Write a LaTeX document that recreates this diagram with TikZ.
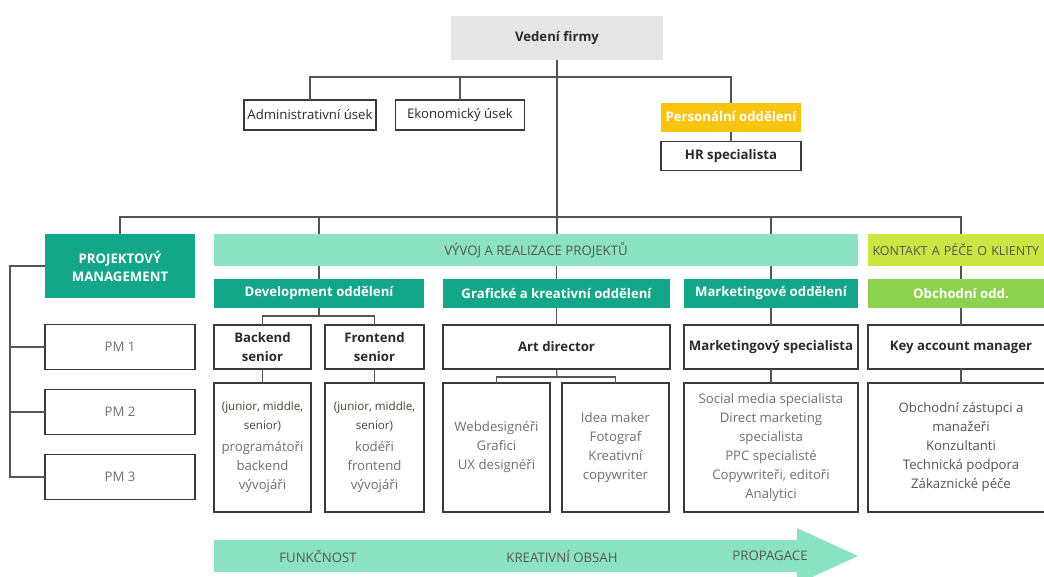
\documentclass[tikz,border=0pt]{standalone}
\usepackage{fontspec}
\setmainfont{Open Sans}
\usetikzlibrary{positioning}
\definecolor{teal}{HTML}{13A688}
\definecolor{mint}{HTML}{8BE3C3}
\definecolor{lime}{HTML}{CBE642}
\definecolor{leaf}{HTML}{8DD24E}
\definecolor{gold}{HTML}{F7C510}
\definecolor{lightgray}{HTML}{E6E6E6}
\definecolor{frame}{HTML}{3A3A3A}
\definecolor{wire}{HTML}{555555}
\definecolor{soft}{HTML}{707070}
\definecolor{dark}{HTML}{2B2B2B}
\definecolor{level}{HTML}{4A3F35}
\newcommand{\lvl}[1]{{\fontsize{11.6}{15}\selectfont\color{level}#1}}

\begin{document}
\begin{tikzpicture}
  [x=1pt,y=-1pt,
   every node/.style={inner sep=0pt,outer sep=0pt,align=center,
     font=\fontsize{13.2}{19}\selectfont},
   sz/.style 2 args={minimum width=#1,minimum height=#2},
   box/.style={draw=frame,line width=1.7pt,fill=white},
   head/.style={box,text=dark,font=\fontsize{13.2}{19}\selectfont\bfseries},
   list/.style={box,text=soft},
   dept/.style={fill=teal,text=white,font=\fontsize{13.2}{18}\selectfont\bfseries},
   band/.style={fill=mint,text=wire},
   wires/.style={draw=wire,line width=1.2pt}]
  \useasboundingbox (0,0) rectangle (1044,576);
  \clip (0,0) rectangle (1044,576);

  % top
  \node[sz={212}{44},fill=lightgray,text=dark,font=\fontsize{13.2}{19}\selectfont\bfseries] (vedeni) at (557,38) {Vedení firmy};
  \node[box,sz={132}{30},text=dark] (admin) at (310,115) {Administrativní úsek};
  \node[box,sz={129}{30},text=dark] (ekonom) at (460,115) {Ekonomický úsek};
  \node[dept,fill=gold,sz={140}{29}] (personal) at (731,117) {Personální oddělení};
  \node[head,sz={140}{29}] (hr) at (731,156) {HR specialista};

  % second level
  \node[dept,sz={150}{64}] (pm) at (120,266) {PROJEKTOVÝ\\MANAGEMENT};
  \node[band,sz={644}{32}] (vyvoj) at (536,250) {VÝVOJ A REALIZACE PROJEKTŮ};
  \node[band,fill=lime,sz={186}{32},text width=181,align=left,inner xsep=5pt,
    font=\fontsize{12.5}{18}\selectfont] (kontakt) at (963,250) {KONTAKT A PÉČE O KLIENTY};

  \node[dept,sz={210}{29}] (dev) at (319,293.5) {Development oddělení};
  \node[dept,sz={227}{29}] (graf) at (556.5,293.5) {Grafické a kreativní oddělení};
  \node[dept,sz={174}{29}] (mark) at (771,293.5) {Marketingové oddělení};
  \node[dept,fill=leaf,sz={186}{29}] (obch) at (961,293.5) {Obchodní odd.};

  % PM
  \node[list,sz={150}{45}] (pm1) at (120,347) {PM 1};
  \node[list,sz={150}{45}] (pm2) at (120,412) {PM 2};
  \node[list,sz={150}{45}] (pm3) at (120,477) {PM 3};

  % third level
  \node[head,sz={97}{44}] (backend) at (262.5,347) {Backend\\senior};
  \node[head,sz={99}{44}] (frontend) at (374.5,347) {Frontend\\senior};
  \node[head,sz={227}{44}] (art) at (556.5,347) {Art director};
  \node[head,sz={174}{44}] (mspec) at (771,347) {Marketingový specialista};
  \node[head,sz={186}{44}] (key) at (961,347) {Key account manager};

  \node[list,sz={97}{129}] (bdet) at (262.5,447.5)
    {\lvl{(junior, middle,}\\\lvl{senior)}\\[3pt]programátoři\\backend\\vývojáři};
  \node[list,sz={99}{129}] (fdet) at (374.5,447.5)
    {\lvl{(junior, middle,}\\\lvl{senior)}\\[3pt]kodéři\\frontend\\vývojáři};
  \node[list,sz={107}{129}] (webd) at (496.5,447.5) {Webdesignéři\\Grafici\\UX designéři};
  \node[list,sz={107}{129}] (idea) at (615.5,447.5) {Idea maker\\Fotograf\\Kreativní\\copywriter};
  \node[list,sz={174}{129}] (mdet) at (771,447.5)
    {Social media specialista\\Direct marketing\\specialista\\PPC specialisté\\Copywriteři, editoři\\Analytici};
  \node[list,sz={186}{129},text=wire] (kdet) at (961,447.5)
    {Obchodní zástupci a\\manažeři\\Konzultanti\\Technická podpora\\Zákaznické péče};

  % connectors
  \coordinate (b1) at (557,77);
  \coordinate (b2) at (557,217);
  \coordinate (db) at (319,316);
  \coordinate (ab) at (557,377);
  \coordinate (lft) at (10,0);
  \draw[wires] (vedeni.south) -- (vedeni.south |- vyvoj.north);
  \draw[wires] (admin.north) |- (b1) -| (personal.north);
  \draw[wires] (ekonom.north) -- (ekonom.north |- b1);
  \draw[wires] (pm.north) |- (b2) -| (obch.north |- kontakt.north);
  \foreach \d in {dev,mark}
    \draw[wires] (\d.north |- b2) -- (\d.north |- vyvoj.north);
  \foreach \d in {dev,graf,mark,obch}
    \draw[wires] (\d.north |- vyvoj.south) -- (\d.north);
  \foreach \a/\b in {personal/hr,graf/art,mark/mspec,obch/key,backend/bdet,frontend/fdet,mspec/mdet,key/kdet}
    \draw[wires] (\a.south) -- (\b.north);
  \draw[wires] (dev.south) -- (db);
  \draw[wires] (backend.north) |- (db) -| (frontend.north);
  \draw[wires] (art.south) -- (ab);
  \draw[wires] (webd.north) |- (ab) -| (idea.north);
  \draw[wires] (pm.west) -| (lft |- pm3.west) -- (pm3.west);
  \foreach \n in {pm1,pm2}
    \draw[wires] (\n.west) -- (lft |- \n.west);

  % bottom arrow
  \fill[mint] (214,540) -- (797,540) -- (797,528) -- (858,556) -- (797,584)
    -- (797,572) -- (214,572) -- cycle;
  \node[text=wire] (funk) at (318,556) {FUNKČNOST};
  \node[text=wire] (obsah) at (562,556) {KREATIVNÍ OBSAH};
  \node[text=wire] (prop) at (770,556) {PROPAGACE};
\end{tikzpicture}
\end{document}
